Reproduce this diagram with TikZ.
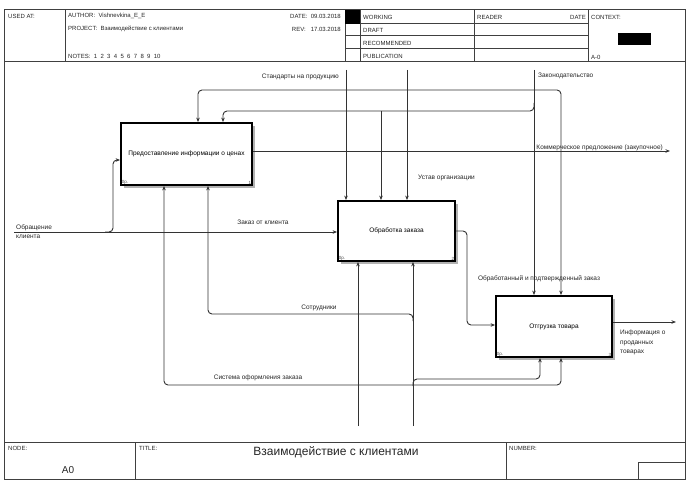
\documentclass[tikz,border=0pt]{standalone}
\usepackage{fontspec}
\setmainfont{Liberation Sans}
\usetikzlibrary{arrows.meta,shadows}
\begin{document}
\begin{tikzpicture}[x=1pt,y=-1pt,
 frame/.style={draw=black!75, line width=1pt},
 fn/.style={draw=black, line width=1.8pt, fill=white, inner sep=0pt, align=center,
   font=\fontsize{6.5}{7.5}\selectfont,
   drop shadow={shadow xshift=3pt, shadow yshift=-3pt, fill=black!30, opacity=1}},
 conn/.style={draw=black!80, line width=0.9pt, rounded corners=4pt},
 arr/.style={conn, -{Stealth[length=4.5pt,width=3.5pt]}},
 lbl/.style={font=\fontsize{6.5}{7.5}\selectfont, inner sep=0pt, text=black!85},
 hdr/.style={font=\fontsize{6}{7}\selectfont, inner sep=0pt, anchor=west, text=black!85},
 corner/.style={font=\fontsize{4.5}{5}\selectfont, inner sep=1.5pt, text=black!70}
]
\useasboundingbox (0,0) rectangle (689,492);
\fill[white] (0,0) rectangle (689,492);

% ---------- frame ----------
\draw[frame] (4,10) rectangle (685,479);
\draw[frame] (4,62) -- (685,62);
\draw[frame] (4,442) -- (685,442);
\foreach \x in {65,345,360,474,588} \draw[frame] (\x,10) -- (\x,62);
\foreach \y in {24,36,49} \draw[frame] (345,\y) -- (588,\y);
\fill[black] (345,10) rectangle (360,24);
\fill[black] (618,33) rectangle (651,45);
\foreach \x in {135,506} \draw[frame] (\x,442) -- (\x,479);
\draw[frame] (638,462) rectangle (685,479);

% ---------- header texts ----------
\node[hdr] (usedat) at (8,16) {USED AT:};
\node[hdr] (author) at (68,16) {AUTHOR: \ Vishnevkina\_E\_E};
\node[hdr] (project) at (68,29) {PROJECT: \ Взаимодействие с клиентами};
\node[hdr] (notes) at (68,56) {NOTES: \ 1 \ 2 \ 3 \ 4 \ 5 \ 6 \ 7 \ 8 \ 9 \ 10};
\node[hdr, anchor=east] (date) at (341,16) {DATE: \ 09.03.2018};
\node[hdr, anchor=east] (rev) at (341,29) {REV: \ \ 17.03.2018};
\node[hdr] (working) at (363,17) {WORKING};
\node[hdr] (draft) at (363,30) {DRAFT};
\node[hdr] (recom) at (363,43) {RECOMMENDED};
\node[hdr] (publ) at (363,56) {PUBLICATION};
\node[hdr] (reader) at (477,17) {READER};
\node[hdr, anchor=east] (rdate) at (586,17) {DATE};
\node[hdr] (context) at (591,17) {CONTEXT:};
\node[hdr] (actx) at (591,57) {A-0};

% ---------- footer texts ----------
\node[hdr] (nodelbl) at (8,448) {NODE:};
\node[hdr] (titlelbl) at (139,448) {TITLE:};
\node[hdr] (numlbl) at (509,448) {NUMBER:};
\node[font=\fontsize{10}{12}\selectfont, inner sep=0pt, text=black!85] (a0) at (68,470) {A0};
\node[font=\fontsize{12}{14}\selectfont, inner sep=0pt, text=black!85] (title) at (336,452) {Взаимодействие с клиентами};

% ---------- function boxes ----------
\node[fn, minimum width=131pt, minimum height=62pt] (b1) at (186.5,154) {Предоставление информации о ценах};
\node[fn, minimum width=117pt, minimum height=60pt] (b2) at (396.5,231) {Обработка заказа};
\node[fn, minimum width=116pt, minimum height=61pt] (b3) at (554,326.5) {Отгрузка товара};
\node[corner, anchor=south west] (b1p) at (b1.south west) {0р.};
\node[corner, anchor=south east] (b1n) at (b1.south east) {1};
\node[corner, anchor=south west] (b2p) at (b2.south west) {0р.};
\node[corner, anchor=south east] (b2n) at (b2.south east) {2};
\node[corner, anchor=south west] (b3p) at (b3.south west) {0р.};
\node[corner, anchor=south east] (b3n) at (b3.south east) {3};

% ---------- free ends ----------
\coordinate (st) at (346,70);
\coordinate (ust) at (407,70);
\coordinate (zak) at (534,70);
\coordinate (obr) at (14,232);
\coordinate (kom) at (670,151);
\coordinate (inf) at (676,322);
\coordinate (sys) at (358,426);
\coordinate (sot) at (413,426);

% ---------- controls ----------
\draw[arr] (st) -- (st |- b2.north);
\draw[arr] (346,90) -- (198,90) -- (198,0 |- b1.north);
\draw[arr] (346,90) -- (561,90) -- (561,0 |- b3.north);
\draw[arr] (zak) -- (zak |- b3.north);
\draw[arr] (534,103) -- (534,111) -- (223,111) -- (223,0 |- b1.north);
\draw[arr] (381,111) -- (381,0 |- b2.north);
\draw[arr] (ust) -- (ust |- b2.north);

% ---------- inputs / outputs ----------
\draw[arr] (obr) -- (obr -| b2.west);
\draw[arr] (105,232) -- (113,232) -- (113,160) -- (b1.west |- 0,160);
\draw[arr] (b1.east |- kom) -- (kom);
\draw[arr] (b2.east) -- (467,231) -- (467,325) -- (b3.west |- 0,325);
\draw[arr] (b3.east |- inf) -- (inf);

% ---------- mechanisms ----------
\draw[arr] (sys) -- (sys |- b2.south);
\draw[arr] (358,385) -- (164,385) -- (164,0 |- b1.south);
\draw[arr] (358,385) -- (561,385) -- (561,0 |- b3.south);
\draw[arr] (sot) -- (sot |- b2.south);
\draw[arr] (413,321) -- (413,314) -- (208,314) -- (208,0 |- b1.south);
\draw[arr] (413,386) -- (413,379) -- (540,379) -- (540,0 |- b3.south);

% ---------- arrow labels ----------
\node[lbl, anchor=east] (lst) at (339,77) {Стандарты на продукцию};
\node[lbl, anchor=west] (lzak) at (538,76) {Законодательство};
\node[lbl, anchor=west] (lust) at (418,178) {Устав организации};
\node[lbl, anchor=west, align=left, font=\fontsize{6.5}{9}\selectfont] (lobr) at (16,232) {Обращение\\клиента};
\node[lbl] (lzk) at (263,222) {Заказ от клиента};
\node[lbl, anchor=base east] (lkom) at (663,150) {Коммерческое предложение (закупочное)};
\node[lbl] (lobz) at (539,279) {Обработанный и подтвержденный заказ};
\node[lbl, anchor=north west, align=left, font=\fontsize{6.5}{9.5}\selectfont] (linf) at (620,330) {Информация о\\проданных\\товарах};
\node[lbl] (lsot) at (319,308) {Сотрудники};
\node[lbl] (lsys) at (258,378) {Система оформления заказа};
\end{tikzpicture}
\end{document}
